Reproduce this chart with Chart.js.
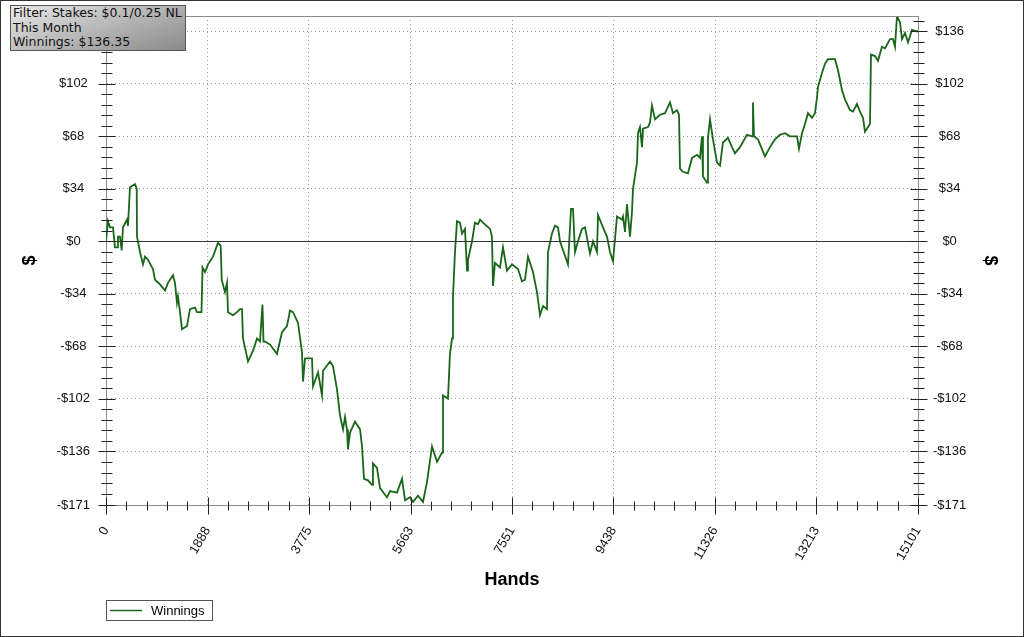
<!DOCTYPE html>
<html>
<head>
<meta charset="utf-8">
<title>Winnings</title>
<script src="https://cdn.jsdelivr.net/npm/chart.js@4.4.1/dist/chart.umd.min.js"></script>
<style>
    html, body { margin: 0; padding: 0; background: #fff; }
    #wrap { position: relative; width: 1024px; height: 637px; }
    #infoBox {
        position: absolute; left: 10px; top: 5px; width: 176px; height: 46px;
        box-sizing: border-box; border: 1px solid #555;
        background: linear-gradient(160deg, #e8e8e8 0%, #bcbcbc 45%, #8a8a8a 100%);
        font: 12.5px "DejaVu Sans", Verdana, sans-serif; color: #111;
        padding: 0 2px; line-height: 14.5px; white-space: nowrap; overflow: hidden;
    }
</style>
</head>
<body>
<div id="wrap">
    <canvas id="winChart" width="1024" height="637"></canvas>
    <div id="infoBox">Filter: Stakes: $0.1/0.25 NL<br>This Month<br>Winnings: $136.35</div>
</div>
<script>
// hands played (x) and running winnings in $ (y)
const hands = [
    0, 37, 74, 130, 167, 205, 223, 260, 292, 316, 391, 409, 446, 539, 571, 577, 632, 688, 725, 781,
    874, 911, 1004, 1097, 1153, 1246, 1283, 1320, 1339, 1376, 1413, 1506, 1562, 1655, 1692, 1776, 1795, 1841, 1897, 1990,
    2083, 2133, 2152, 2213, 2250, 2269, 2362, 2436, 2492, 2529, 2548, 2641, 2734, 2808, 2864, 2910, 2929, 2957, 3050, 3180,
    3273, 3366, 3422, 3478, 3571, 3645, 3664, 3701, 3831, 3850, 3943, 4017, 4036, 4166, 4222, 4296, 4352, 4408, 4445, 4482,
    4500, 4538, 4631, 4724, 4761, 4798, 4872, 4947, 4965, 5040, 5096, 5226, 5282, 5412, 5505, 5561, 5653, 5709, 5802, 5895,
    5970, 6063, 6156, 6249, 6267, 6360, 6397, 6435, 6453, 6490, 6528, 6583, 6621, 6676, 6714, 6732, 6807, 6862, 6918, 6955,
    7011, 7141, 7178, 7197, 7234, 7327, 7383, 7457, 7550, 7662, 7736, 7792, 7848, 7941, 8015, 8071, 8127, 8201, 8220, 8294,
    8350, 8406, 8443, 8592, 8648, 8685, 8722, 8778, 8852, 8908, 9001, 9057, 9131, 9150, 9243, 9317, 9373, 9429, 9503, 9596,
    9615, 9652, 9689, 9745, 9782, 9801, 9875, 9894, 9931, 9968, 9987, 10080, 10117, 10154, 10210, 10303, 10396, 10489, 10544, 10619,
    10656, 10675, 10730, 10823, 10898, 10991, 11047, 11084, 11102, 11177, 11195, 11233, 11288, 11363, 11419, 11474, 11567, 11642, 11697, 11790,
    11920, 12014, 12032, 12051, 12125, 12255, 12348, 12441, 12534, 12627, 12720, 12851, 12888, 12944, 12999, 13055, 13129, 13185, 13222, 13241,
    13315, 13371, 13427, 13557, 13613, 13687, 13743, 13836, 13892, 13966, 14022, 14078, 14115, 14171, 14208, 14227, 14301, 14357, 14431, 14487,
    14580, 14636, 14673, 14710, 14766, 14803, 14859, 14915, 14989, 15082, 15101
];
const winnings = [
    0, 13, 9, 9, -4, -4, 3, 3, -6, 9, 14, 10, 35, 37, 34, 3, -7, -15, -10, -12,
    -18, -25, -28, -32, -27, -22, -27, -40, -36, -46, -57, -55, -44, -43, -46, -46, -17, -20, -15, -10,
    -1, -3, -25, -33, -27, -46, -48, -46, -44, -44, -63, -78, -71, -63, -65, -41, -65, -65, -67, -73,
    -59, -55, -45, -46, -53, -72, -91, -76, -76, -94, -85, -100, -84, -78, -81, -96, -113, -122, -114, -122,
    -135, -124, -117, -122, -133, -154, -155, -158, -144, -147, -160, -166, -162, -163, -154, -168, -166, -169, -165, -169,
    -156, -133, -143, -137, -100, -102, -73, -63, -36, -7, 13, 12, 5, 8, -19, -12, 0, 12, 11, 14,
    12, 8, 3, -29, -14, -17, -4, -19, -15, -18, -26, -25, -10, -20, -33, -48, -42, -44, -7, 5,
    10, 9, 0, -15, 21, 21, -7, 0, 8, 9, -8, 0, -7, 17, 9, 3, -7, -13, 16, 14,
    16, 6, 24, 3, 19, 34, 51, 70, 74, 61, 73, 74, 77, 88, 79, 82, 83, 90, 83, 85,
    82, 47, 45, 44, 54, 56, 54, 68, 42, 38, 67, 79, 66, 51, 49, 64, 67, 61, 57, 61,
    69, 68, 90, 68, 66, 55, 61, 66, 69, 70, 68, 68, 60, 70, 76, 83, 80, 83, 93, 100,
    109, 115, 118, 118, 111, 98, 92, 85, 84, 89, 84, 80, 71, 74, 76, 121, 120, 117, 126, 125,
    131, 131, 126, 146, 142, 131, 135, 129, 137, 136, 136.35
];
const seriesName = 'Winnings';

const xTicks = [0, 1888, 3775, 5663, 7551, 9438, 11326, 13213, 15101];
const xTickLabels = ['0', '1888', '3775', '5663', '7551', '9438', '11326', '13213', '15101'];
const yTicks = [-171, -136, -102, -68, -34, 0, 34, 68, 102, 136];
const yMin = -171, yMax = 146;

const LINE_COLOR = '#1a661a';
const labelFont = { family: 'Liberation Sans, Arial, sans-serif', size: 13 };
const titleFont = { family: 'Liberation Sans, Arial, sans-serif', size: 18, weight: 'bold' };

// minor ticks: 5 steps between two major ticks
function minorValues(majors, max) {
    const out = [];
    for (let i = 0; i < majors.length - 1; i++) {
        const step = (majors[i + 1] - majors[i]) / 5;
        for (let k = 1; k < 5; k++) out.push(majors[i] + step * k);
    }
    if (max !== undefined) {
        const last = majors[majors.length - 1];
        const step = (last - majors[majors.length - 2]) / 5;
        for (let v = last + step; v < max; v += step) out.push(v);
    }
    return out;
}

const frameAndTicks = {
    id: 'frameAndTicks',
    afterDraw(chart) {
        const { ctx, chartArea: a, scales } = chart;
        const x = scales.x, y = scales.y;
        ctx.save();

        // zero line
        ctx.strokeStyle = '#333';
        ctx.lineWidth = 1;
        const y0 = Math.round(y.getPixelForValue(0)) + 0.5;
        ctx.beginPath(); ctx.moveTo(a.left, y0); ctx.lineTo(a.right, y0); ctx.stroke();

        // top border
        ctx.strokeStyle = '#8a8a8a';
        ctx.beginPath(); ctx.moveTo(a.left, a.top + 0.5); ctx.lineTo(a.right, a.top + 0.5); ctx.stroke();

        // cross ticks on axes
        ctx.strokeStyle = '#222';
        ctx.beginPath();
        const yb = Math.round(a.bottom) + 0.5;
        xTicks.forEach(v => {
            const px = Math.round(x.getPixelForValue(v)) + 0.5;
            ctx.moveTo(px, yb - 8); ctx.lineTo(px, yb + 9);
        });
        minorValues(xTicks).forEach(v => {
            const px = Math.round(x.getPixelForValue(v)) + 0.5;
            ctx.moveTo(px, yb - 4); ctx.lineTo(px, yb + 5);
        });
        [a.left, a.right].forEach(edge => {
            const ex = Math.round(edge) + 0.5;
            yTicks.forEach(v => {
                const py = Math.round(y.getPixelForValue(v)) + 0.5;
                ctx.moveTo(ex - 8, py); ctx.lineTo(ex + 9, py);
            });
            minorValues(yTicks, yMax).forEach(v => {
                const py = Math.round(y.getPixelForValue(v)) + 0.5;
                ctx.moveTo(ex - 5, py); ctx.lineTo(ex + 6, py);
            });
        });
        ctx.stroke();

        // legend box
        const ds = chart.data.datasets[0];
        ctx.strokeStyle = '#555';
        ctx.strokeRect(106.5, 600.5, 106, 20);
        ctx.strokeStyle = ds.borderColor;
        ctx.lineWidth = 1.5;
        ctx.beginPath(); ctx.moveTo(110, 610.5); ctx.lineTo(142, 610.5); ctx.stroke();
        ctx.fillStyle = '#000';
        ctx.font = '13px "Liberation Sans", Arial, sans-serif';
        ctx.textBaseline = 'middle';
        ctx.fillText(ds.label, 151, 611);

        // outer frame
        ctx.strokeStyle = '#333';
        ctx.lineWidth = 1;
        ctx.strokeRect(0.5, 0.5, chart.width - 1, chart.height - 1);
        ctx.restore();
    }
};

function dollar(v) {
    return v < 0 ? '-$' + Math.abs(v) : '$' + v;
}

function yAxis(position) {
    return {
        position: position,
        min: yMin,
        max: yMax,
        afterBuildTicks: s => { s.ticks = yTicks.map(v => ({ value: v })); },
        afterFit: s => { s.width = 106; s.paddingTop = 0; s.paddingBottom = 0; },
        ticks: {
            callback: v => dollar(v),
            font: labelFont,
            color: '#111',
            crossAlign: 'center',
            padding: position === 'left' ? 16 : 15
        },
        grid: {
            drawTicks: false,
            drawOnChartArea: position === 'left',
            color: c => (c.tick && (c.tick.value === 0 || c.tick.value === yMin)) ? 'rgba(0,0,0,0)' : '#9a9a9a'
        },
        border: { display: true, color: '#8a8a8a', dash: [1, 3] },
        title: {
            display: true,
            text: '$',
            font: titleFont,
            color: '#000',
            padding: { top: position === 'left' ? 19 : 23, bottom: 0 }
        }
    };
}

const points = hands.map((h, i) => ({ x: h, y: winnings[i] }));

new Chart(document.getElementById('winChart').getContext('2d'), {
    type: 'line',
    data: {
        datasets: [{
            label: seriesName,
            data: points,
            borderColor: LINE_COLOR,
            borderWidth: 1.8,
            pointRadius: 0,
            tension: 0,
            fill: false
        }]
    },
    plugins: [frameAndTicks],
    options: {
        responsive: false,
        animation: false,
        layout: { padding: { top: 16, bottom: 37, left: 0, right: 0 } },
        plugins: {
            legend: { display: false },
            tooltip: { enabled: false }
        },
        scales: {
            x: {
                type: 'linear',
                min: 0,
                max: 15101,
                afterBuildTicks: s => { s.ticks = xTicks.map(v => ({ value: v })); },
                afterFit: s => { s.height = 95; },
                ticks: {
                    callback: (v, i) => xTickLabels[i],
                    font: labelFont,
                    color: '#111',
                    minRotation: 60,
                    maxRotation: 60,
                    padding: 19
                },
                grid: {
                    drawTicks: false,
                    color: c => (c.tick && (c.tick.value === 0 || c.tick.value === 15101)) ? 'rgba(0,0,0,0)' : '#9a9a9a'
                },
                border: { display: true, color: '#8a8a8a', dash: [1, 3] },
                title: {
                    display: true,
                    text: 'Hands',
                    font: titleFont,
                    color: '#000',
                    padding: { top: 0, bottom: 9 }
                }
            },
            y: yAxis('left'),
            y2: yAxis('right')
        }
    }
});
</script>
</body>
</html>
